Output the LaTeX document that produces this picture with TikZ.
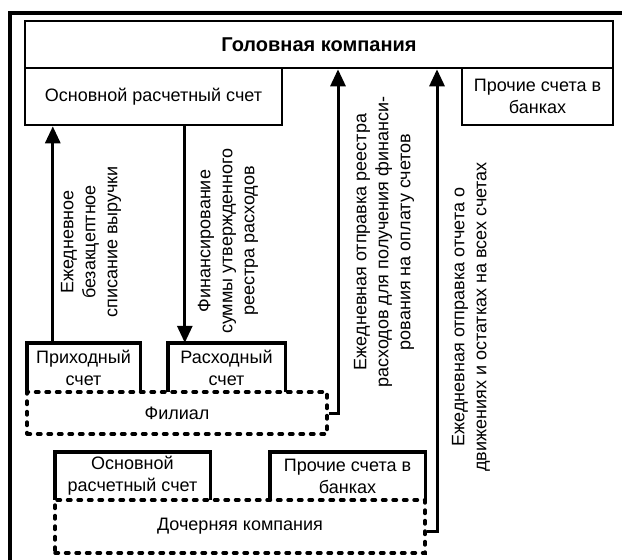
\documentclass[tikz,border=0pt]{standalone}
\usepackage{fontspec}
\setmainfont{Liberation Sans}
\usetikzlibrary{arrows.meta}

\begin{document}
\begin{tikzpicture}[x=1pt,y=-1pt]
        \tikzstyle{every node}=[inner sep=2pt, font=\fontsize{18}{22}\selectfont]
        \tikzstyle{box}=[draw, line width=2.6pt, minimum height=57pt, align=center]
        \tikzstyle{part}=[minimum height=49pt, align=center]
        \tikzstyle{side}=[line width=3.4pt, line join=miter]
        \tikzstyle{unit}=[draw, line width=3.4pt, dash pattern=on 3.5pt off 7pt, line cap=round, align=center]
        \tikzstyle{arr}=[line width=3pt, -{Triangle[length=17pt, width=15pt]}]
        \tikzstyle{lbl}=[rotate=90, align=center]
        \useasboundingbox (0,0) rectangle (622,560);
        \draw[line width=4pt] (10,560) -- (10,13) -- (622,13);
        % head company
        \node[box, minimum width=588pt, minimum height=47pt, font=\fontsize{20}{24}\selectfont\bfseries] (head) at (319,44.5) {Головная компания};
        \node[box, minimum width=257pt] (mainacc) at (153.5,96.5) {Основной расчетный счет};
        \node[box, minimum width=151pt] (otheracc) at (537.5,96.5) {Прочие счета в\\банках};
        % branch
        \node[part, minimum width=113pt] (inacc) at (83.5,367.5) {Приходный\\счет};
        \node[part, minimum width=117pt] (outacc) at (226.5,367.5) {Расходный\\счет};
        \node[unit, minimum width=300pt, minimum height=42pt] (fil) at (177,413) {Филиал};
        % subsidiary
        \node[part, minimum width=155pt, minimum height=48pt] (submain) at (132.5,476) {Основной\\расчетный счет};
        \node[part, minimum width=155pt, minimum height=48pt] (subother) at (347.5,476) {Прочие счета в\\банках};
        \node[unit, minimum width=370pt, minimum height=53pt] (dch) at (240,526.5) {Дочерняя компания};
        \foreach \n in {inacc,outacc,submain,subother}
            \draw[side] (\n.south west) |- (\n.north) -| (\n.south east);
        % arrows
        \coordinate (up) at ([xshift=26pt]inacc.north west);
        \coordinate (dn) at ([xshift=17pt]outacc.north west);
        \coordinate (r1) at (338,0);
        \coordinate (r2) at (437,0);
        \draw[arr] (up) -- (up |- mainacc.south);
        \draw[arr] (dn |- mainacc.south) -- (dn);
        \draw[arr] (fil.east) -| (r1 |- head.south);
        \draw[arr] ([yshift=-5pt]dch.east) -| (r2 |- head.south);
        \node[lbl] (l1) at (91,242) {Ежедневное\\безакцептное\\списание выручки};
        \node[lbl] (l2) at (228,241) {Финансирование\\суммы утвержденного\\реестра расходов};
        \node[lbl] (l3) at (384,242) {Ежедневная отправка реестра\\расходов для получения финанси-\\рования на оплату счетов};
        \node[lbl] (l4) at (471,317) {Ежедневная отправка отчета о\\движениях и остатках на всех счетах};
    \end{tikzpicture}
\end{document}
